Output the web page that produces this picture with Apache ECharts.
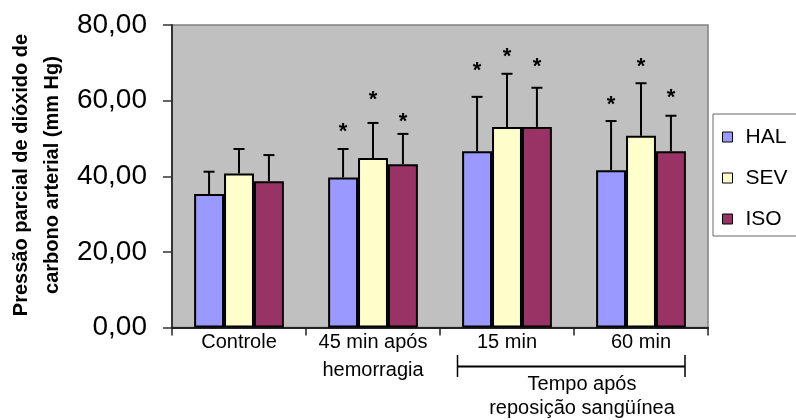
<!DOCTYPE html>
<html>
<head>
<meta charset="utf-8">
<script src="https://cdn.jsdelivr.net/npm/echarts@6/dist/echarts.min.js"></script>
<style>
  html, body { margin: 0; padding: 0; background: #fff; }
  #chart { width: 796px; height: 420px; }
</style>
</head>
<body>
<div id="chart"></div>
<script>
// Arterial CO2 partial pressure (mm Hg), mean and SD per anaesthetic group
const categories = ['Controle', '45 min após\nhemorragia', '15 min', '60 min'];
const seriesNames = ['HAL', 'SEV', 'ISO'];
const halMean = [35.3, 39.7, 46.6, 41.6];
const sevMean = [40.7, 44.8, 53.0, 50.7];
const isoMean = [38.7, 43.2, 53.0, 46.6];
const halSd = [5.9, 7.5, 14.4, 13.0];
const sevSd = [6.5, 9.3, 14.1, 13.9];
const isoSd = [6.9, 8.0, 10.4, 9.4];
// height (mm Hg) of the significance asterisk above each bar; null = none
const halStar = [null, 53.0, 69.1, 60.3];
const sevStar = [null, 61.4, 72.8, 70.1];
const isoStar = [null, 55.7, 70.1, 62.1];
const yTicks = [0, 20, 40, 60, 80];
const yTitle = 'Pressão parcial de dióxido de\ncarbono arterial (mm Hg)';
const bracketText = 'Tempo após\nreposição sangüínea';

const colors = ['#9999ff', '#ffffcc', '#993366'];
const FONT = '"Liberation Sans", Arial, sans-serif';
const CAT_GAP = 0.33;

const means = [halMean, sevMean, isoMean];
const sds = [halSd, sevSd, isoSd];
const stars = [halStar, sevStar, isoStar];

// one row per bar: [category, group, mean, sd, star]
const extraData = [];
for (let s = 0; s < 3; s++) {
  for (let c = 0; c < categories.length; c++) {
    extraData.push([c, s, means[s][c], sds[s][c], stars[s][c] == null ? '-' : stars[s][c]]);
  }
}

// upward SD whisker with cap, plus the asterisk where present
function renderExtras(params, api) {
  const c = api.value(0);
  const s = api.value(1);
  const mean = api.value(2);
  const sd = api.value(3);
  const star = api.value(4);
  const band = api.size([1, 0])[0];
  const barW = band * (1 - CAT_GAP) / 3;
  const cx = api.coord([c, 0])[0] + (s - 1) * barW;
  const yTop = api.coord([c, mean])[1];
  const yErr = api.coord([c, mean + sd])[1];
  const children = [
    { type: 'line', shape: { x1: cx, y1: yTop, x2: cx, y2: yErr }, style: { stroke: '#000', lineWidth: 2 } },
    { type: 'line', shape: { x1: cx - 5.5, y1: yErr, x2: cx + 5.5, y2: yErr }, style: { stroke: '#000', lineWidth: 2 } }
  ];
  if (typeof star === 'number' && isFinite(star)) {
    const ys = api.coord([c, star])[1];
    children.push({
      type: 'text',
      x: cx, y: ys + 5,
      style: { text: '*', font: 'bold 22px ' + FONT, fill: '#000', align: 'center', verticalAlign: 'middle' }
    });
  }
  return { type: 'group', children: children };
}

const chart = echarts.init(document.getElementById('chart'), null, { renderer: 'canvas' });

const barSeries = seriesNames.map((name, i) => ({
  name: name,
  type: 'bar',
  data: means[i],
  barGap: '0%',
  barCategoryGap: (CAT_GAP * 100) + '%',
  itemStyle: { color: colors[i], borderColor: '#000', borderWidth: 2 }
}));

chart.setOption({
  animation: false,
  textStyle: { fontFamily: FONT },
  grid: {
    left: 172, right: 88, top: 25, bottom: 92.5,
    show: true, backgroundColor: '#c0c0c0', borderColor: '#808080', borderWidth: 1.5
  },
  legend: {
    data: seriesNames,
    orient: 'vertical',
    left: 713, top: 114,
    padding: [12, 40, 6, 9],
    itemGap: 19,
    itemWidth: 10, itemHeight: 10,
    icon: 'rect',
    backgroundColor: '#fff',
    borderColor: '#666', borderWidth: 1, borderRadius: 0,
    itemStyle: { borderColor: '#000', borderWidth: 1 },
    textStyle: { fontSize: 21, lineHeight: 22, color: '#000', fontFamily: FONT, padding: [0, 0, 0, 8] }
  },
  xAxis: {
    type: 'category',
    data: categories,
    axisLine: { lineStyle: { color: '#222', width: 2 } },
    axisTick: { show: true, length: 8, lineStyle: { color: '#222', width: 1.5 } },
    axisLabel: { interval: 0, margin: 1, fontSize: 20, lineHeight: 28, color: '#000', fontFamily: FONT },
    splitLine: { show: false }
  },
  yAxis: {
    type: 'value',
    min: yTicks[0], max: yTicks[yTicks.length - 1], interval: yTicks[1] - yTicks[0],
    axisLine: { show: true, lineStyle: { color: '#333', width: 2 } },
    axisTick: { show: true, length: 9, lineStyle: { color: '#333', width: 1.5 } },
    axisLabel: {
      margin: 25, fontSize: 28, color: '#000', fontFamily: FONT,
      formatter: v => v.toFixed(2).replace('.', ',')
    },
    splitLine: { show: false }
  },
  graphic: [
    {
      type: 'text', x: 37, y: 175, rotation: Math.PI / 2,
      style: {
        text: yTitle, font: 'bold 20px ' + FONT, fill: '#000',
        align: 'center', verticalAlign: 'middle', lineHeight: 31
      }
    },
    {
      type: 'polyline',
      shape: { points: [[457.5, 366.5], [685, 366.5]] },
      style: { stroke: '#000', lineWidth: 2, fill: null }
    },
    { type: 'line', shape: { x1: 457.5, y1: 355, x2: 457.5, y2: 377 }, style: { stroke: '#000', lineWidth: 1.5 } },
    { type: 'line', shape: { x1: 685, y1: 355, x2: 685, y2: 377 }, style: { stroke: '#000', lineWidth: 1.5 } },
    {
      type: 'text', x: 582, y: 396,
      style: {
        text: bracketText, font: '20px ' + FONT, fill: '#000',
        align: 'center', verticalAlign: 'middle', lineHeight: 24
      }
    }
  ],
  series: barSeries.concat([{
    type: 'custom',
    name: 'extras',
    renderItem: renderExtras,
    data: extraData,
    encode: { x: 0, y: 2 },
    z: 5,
    silent: true
  }])
});
</script>
</body>
</html>
